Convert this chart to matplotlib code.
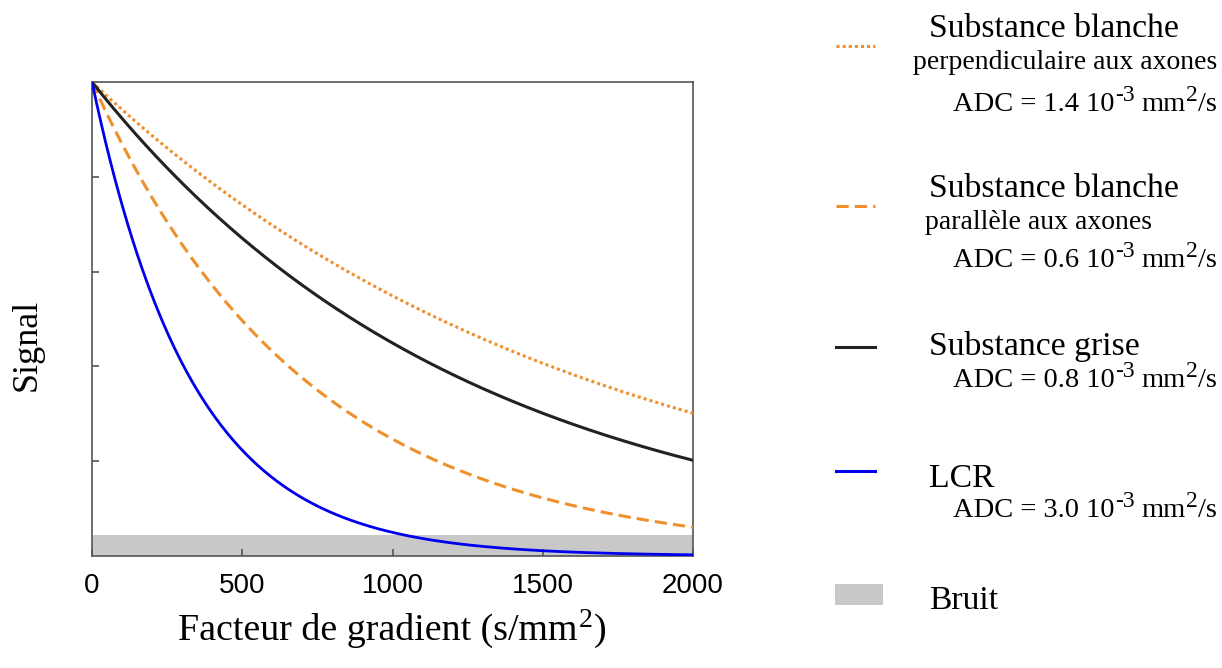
import numpy as np
import matplotlib
matplotlib.use('Agg')
import matplotlib.pyplot as plt
from matplotlib.lines import Line2D
from matplotlib.patches import Rectangle

# diffusion weighted signal S(b) = exp(-b * ADC), b in s/mm^2
b_max = 2000
adc_perp = 0.6e-3     # dotted curve
adc_par = 1.4e-3      # dashed curve
adc_grise = 0.8e-3    # grey matter
adc_lcr = 3.0e-3      # CSF
noise_level = 0.044

legend_adc = ['1.4', '0.6', '0.8', '3.0']

orange = '#f0902c'
blue = '#0000ee'
black = '#222222'
grey = '#c8c8c8'
serif = 'Liberation Serif'

fig = plt.figure(figsize=(12.22, 6.68), dpi=100)
ax = fig.add_axes([92/1222, 112/668, 601/1222, 474/668])

b = np.linspace(0, b_max, 400)
ax.add_patch(Rectangle((0, 0), b_max, noise_level, color=grey, lw=0, zorder=1))
ax.plot(b, np.exp(-b*adc_perp), color=orange, lw=2.2, dashes=(1, 1), zorder=3)
ax.plot(b, np.exp(-b*adc_par), color=orange, lw=2.2, dashes=(4, 2), zorder=3)
ax.plot(b, np.exp(-b*adc_grise), '-', color=black, lw=2.2, zorder=3)
ax.plot(b, np.exp(-b*adc_lcr), '-', color=blue, lw=2.0, zorder=3)

ax.set_xlim(0, b_max)
ax.set_ylim(0, 1)
ax.set_xticks([0, 500, 1000, 1500, 2000])
ax.set_yticks([0.2, 0.4, 0.6, 0.8])
ax.set_yticklabels([])
ax.tick_params(direction='in', length=5, color='#555555', width=1.2)
ax.tick_params(axis='x', labelsize=20, pad=12)
for lab in ax.get_xticklabels():
    lab.set_family('Liberation Sans')
for sp in ax.spines.values():
    sp.set_color('#555555')
    sp.set_linewidth(1.2)

# pixel helpers (figure is 1222 x 668 px)
def fx(px):
    return px/1222

def fy(py):
    return 1 - py/668

renderer = fig.canvas.get_renderer()

def rich_text(x, base, parts, align='left'):
    """parts: (text, fontsize, rise_px, gap_px) drawn on one baseline"""
    texts, widths = [], []
    for s, size, rise, gap in parts:
        t = fig.text(0, 0, s, family=serif, fontsize=size, va='baseline', ha='left')
        texts.append(t)
        widths.append(gap + t.get_window_extent(renderer=renderer).width)
    total = sum(widths)
    if align == 'right':
        x = x - total
    elif align == 'center':
        x = x - total/2
    for t, w, (s, size, rise, gap) in zip(texts, widths, parts):
        x += gap
        t.set_position((fx(x), fy(base - rise)))
        x += w - gap

def adc_text(base, val):
    rich_text(1217, base, [('ADC = ' + val + ' 10', 20.5, 0, 0),
                           ('-3', 17, 10, 1),
                           ('mm', 20.5, 0, 6),
                           ('2', 17, 10, 1),
                           ('/s', 20.5, 0, 0)], align='right')

rich_text(392, 640, [('Facteur de gradient (s/mm', 27.3, 0, 0),
                     ('2', 20, 13, 1),
                     (')', 27.3, 0, 1)], align='center')
fig.text(fx(27), fy(345), 'Signal', family=serif, fontsize=26, rotation=90,
         ha='center', va='center')

# legend drawn by hand on the right side
def symbol(py, color, dashes=None):
    ln = Line2D([fx(836), fx(875)], [fy(py), fy(py)], transform=fig.transFigure,
                color=color, lw=2.2)
    if dashes:
        ln.set_dashes(dashes)
    fig.add_artist(ln)

symbol(46, orange, (1, 1))
fig.text(fx(929), fy(37), 'Substance blanche', family=serif, fontsize=24.3, va='baseline')
fig.text(fx(1217), fy(69), 'perpendiculaire aux axones', family=serif, fontsize=20,
         ha='right', va='baseline')
adc_text(111, legend_adc[0])

symbol(206, orange, (4, 2))
fig.text(fx(929), fy(197), 'Substance blanche', family=serif, fontsize=24.3, va='baseline')
fig.text(fx(925), fy(229), 'parallèle aux axones', family=serif, fontsize=20, va='baseline')
adc_text(267, legend_adc[1])

symbol(347, black)
fig.text(fx(929), fy(355), 'Substance grise', family=serif, fontsize=24.3, va='baseline')
adc_text(387, legend_adc[2])

symbol(471, blue)
fig.text(fx(929), fy(487), 'LCR', family=serif, fontsize=24.3, va='baseline')
adc_text(517, legend_adc[3])

fig.add_artist(Rectangle((fx(835), fy(605)), fx(883) - fx(835), fy(584) - fy(605),
                         transform=fig.transFigure, color=grey, lw=0))
fig.text(fx(929), fy(609), 'Bruit', family=serif, fontsize=24.3, va='baseline')

fig.savefig('out.png', dpi=100)
